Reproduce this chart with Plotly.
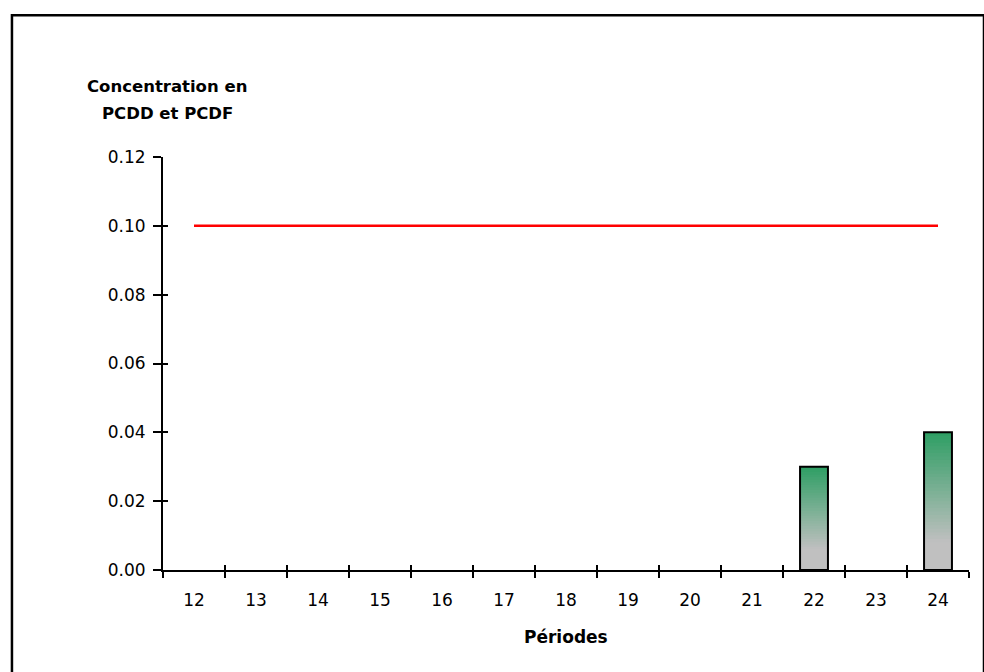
import plotly.graph_objects as go

periods = ["12", "13", "14", "15", "16", "17", "18", "19", "20", "21", "22", "23", "24"]
concentration = [None, None, None, None, None, None, None, None, None, None, 0.03, None, 0.04]
limit_value = [0.10] * len(periods)
y_ticks = [0.00, 0.02, 0.04, 0.06, 0.08, 0.10, 0.12]

FONT = "DejaVu Sans"
N_SEG = 40
GREEN = (46, 158, 100)
GREY = (192, 192, 192)

fig = go.Figure()

# gradient fill of the bars: each slice spans from its base to the bar top,
# later (higher) slices cover the earlier ones -> no gaps between slices
for i in range(N_SEG):
    frac = (i + 0.5) / N_SEG
    t = max(0.0, (frac - 0.2) / 0.8)
    col = tuple(round(GREY[k] + (GREEN[k] - GREY[k]) * t) for k in range(3))
    base = [None if v is None else v * i / N_SEG for v in concentration]
    seg = [None if v is None else v - b for v, b in zip(concentration, base)]
    fig.add_trace(go.Bar(
        x=periods, y=seg, base=base, width=0.45,
        marker=dict(color="rgb(%d,%d,%d)" % col, line=dict(width=0)),
        showlegend=False, hoverinfo="skip",
    ))

# bar outlines
fig.add_trace(go.Bar(
    x=periods, y=concentration, width=0.45,
    marker=dict(color="rgba(0,0,0,0)", line=dict(color="black", width=2)),
    showlegend=False,
))

# limit line
fig.add_trace(go.Scatter(
    x=periods, y=limit_value, mode="lines",
    line=dict(color="#ff0000", width=2.5), showlegend=False,
))

# helper trace for the inner half of crossing ticks
fig.add_trace(go.Scatter(
    x=periods, y=[None] * len(periods), xaxis="x2", yaxis="y2",
    mode="lines", showlegend=False, hoverinfo="skip",
))

axis_common = dict(showgrid=False, zeroline=False, linecolor="black", linewidth=2,
                   tickcolor="black", tickwidth=2)

fig.update_layout(
    width=984, height=672,
    margin=dict(l=163, r=15, t=157, b=102),
    paper_bgcolor="white", plot_bgcolor="white",
    barmode="overlay",
    font=dict(family=FONT, size=17, color="black"),
    xaxis=dict(
        type="category", categoryorder="array", categoryarray=periods,
        range=[-0.5, len(periods) - 0.5], tickson="boundaries",
        ticks="outside", ticklen=6, ticklabelstandoff=14,
        **axis_common,
    ),
    yaxis=dict(
        range=[0, 0.12], tickvals=y_ticks, tickformat=".2f",
        ticks="outside", ticklen=8, ticklabelstandoff=4,
        **axis_common,
    ),
    xaxis2=dict(
        type="category", categoryorder="array", categoryarray=periods,
        range=[-0.5, len(periods) - 0.5], tickson="boundaries",
        overlaying="x", ticks="inside", ticklen=5, showticklabels=False,
        **axis_common,
    ),
    yaxis2=dict(
        range=[0, 0.12], tickvals=y_ticks, overlaying="y",
        ticks="inside", ticklen=5, showticklabels=False,
        **axis_common,
    ),
    annotations=[
        dict(text="<b>Concentration en</b>", xref="paper", yref="paper",
             x=0.005, y=1.1695, xanchor="center", yanchor="middle", showarrow=False,
             font=dict(family=FONT, size=16.5, color="black")),
        dict(text="<b>PCDD et PCDF</b>", xref="paper", yref="paper",
             x=0.005, y=1.1065, xanchor="center", yanchor="middle", showarrow=False,
             font=dict(family=FONT, size=16.5, color="black")),
        dict(text="<b>Périodes</b>", xref="paper", yref="paper",
             x=0.5, y=-0.162, xanchor="center", yanchor="middle", showarrow=False,
             font=dict(family=FONT, size=17, color="black")),
    ],
    shapes=[
        dict(type="rect", xref="paper", yref="paper",
             x0=-0.1874, x1=1.0186, y0=-0.3, y1=1.343,
             line=dict(color="black", width=2.5), fillcolor="rgba(0,0,0,0)"),
    ],
)

fig.write_html("out.html")
